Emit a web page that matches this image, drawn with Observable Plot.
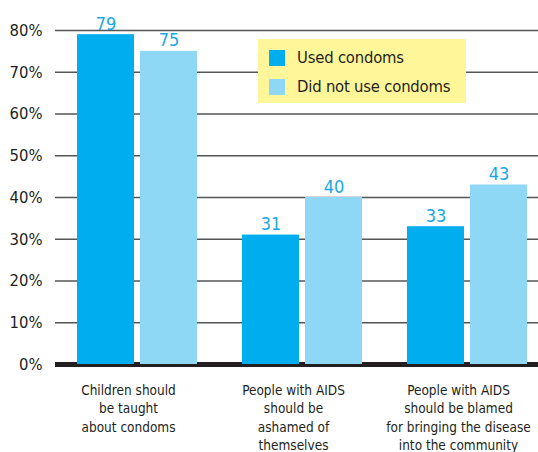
<!DOCTYPE html>
<html>
<head>
<meta charset="utf-8">
<script src="https://cdn.jsdelivr.net/npm/d3@7"></script>
<script src="https://cdn.jsdelivr.net/npm/@observablehq/plot@0.6"></script>
<style>
  body { margin: 0; background: #fff; }
  #wrap { position: relative; width: 538px; height: 452px; font-family: "Liberation Sans Narrow", "DejaVu Sans Condensed", "Roboto Condensed", sans-serif; font-stretch: condensed; }
  #legend { position: absolute; left: 258px; top: 39px; width: 208px; height: 64px; background: #FFF599; box-sizing: border-box; padding: 4px 0 0 11px; color: #231f20; font-size: 16.5px; white-space: nowrap; letter-spacing: -0.2px; }
  #legend .item { display: flex; align-items: center; height: 29px; }
  #legend .sw { width: 16px; height: 16px; margin-right: 12px; }
</style>
</head>
<body>
<div id="wrap"></div>
<script>
const categories = [
  "Children should\nbe taught\nabout condoms",
  "People with AIDS\nshould be\nashamed of\nthemselves",
  "People with AIDS\nshould be blamed\nfor bringing the disease\ninto the community"
];
const seriesNames = ["Used condoms", "Did not use condoms"];
const usedValues = [79, 31, 33];
const notUsedValues = [75, 40, 43];
const seriesColors = ["#00AEEF", "#8FD8F5"];
const yTicks = [0, 10, 20, 30, 40, 50, 60, 70, 80];

const used = categories.map((c, i) => ({cat: c, v: usedValues[i]}));
const notUsed = categories.map((c, i) => ({cat: c, v: notUsedValues[i]}));

const font = '"Liberation Sans Narrow", "DejaVu Sans Condensed", "Roboto Condensed", sans-serif';

const chart = Plot.plot({
  width: 538,
  height: 452,
  marginLeft: 55,
  marginRight: 0,
  marginTop: 30,
  marginBottom: 88,
  style: {fontFamily: font, background: "transparent", overflow: "visible"},
  x: {domain: categories, paddingInner: 0.2711, paddingOuter: 0.0904, align: 0.667, axis: null},
  y: {domain: [0, 80], axis: null},
  marks: [
    Plot.ruleY(yTicks.filter(d => d > 0), {stroke: "#555", strokeWidth: 1.3}),
    Plot.ruleY([0], {stroke: "#231f20", strokeWidth: 5}),
    Plot.axisY({ticks: yTicks, tickSize: 0, tickPadding: 13, tickFormat: d => d + "%", fontSize: 16.5, fill: "#231f20", label: null, style: {letterSpacing: "-0.3px"}}),
    Plot.barY(used, {x: "cat", y: "v", fill: seriesColors[0], insetRight: 63}),
    Plot.barY(notUsed, {x: "cat", y: "v", fill: seriesColors[1], insetLeft: 63}),
    Plot.text(used, {x: "cat", y: "v", text: d => String(d.v), dx: -31.5, dy: -5, lineAnchor: "bottom", fill: "#1AA8E3", fontSize: 18}),
    Plot.text(notUsed, {x: "cat", y: "v", text: d => String(d.v), dx: 31.5, dy: -5, lineAnchor: "bottom", fill: "#1AA8E3", fontSize: 18}),
    Plot.text(categories, {x: d => d, y: () => 0, text: d => d, dx: -9, dy: 17, lineAnchor: "top", lineHeight: 1.37, fontSize: 13.5, fill: "#231f20", style: {letterSpacing: "-0.3px"}})
  ]
});
const wrap = document.getElementById("wrap");
wrap.appendChild(chart);

const legend = document.createElement("div");
legend.id = "legend";
seriesNames.forEach((name, i) => {
  const item = document.createElement("div");
  item.className = "item";
  const sw = document.createElement("div");
  sw.className = "sw";
  sw.style.background = seriesColors[i];
  const label = document.createElement("span");
  label.textContent = name;
  item.appendChild(sw);
  item.appendChild(label);
  legend.appendChild(item);
});
wrap.appendChild(legend);
</script>
</body>
</html>
